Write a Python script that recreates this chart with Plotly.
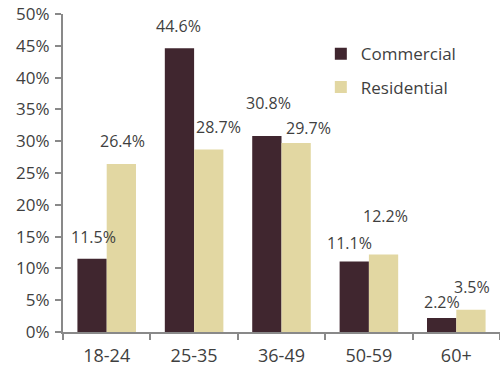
import plotly.graph_objects as go

# Age bands and share of each customer segment (%)
age_bands = ["18-24", "25-35", "36-49", "50-59", "60+"]
commercial = [11.5, 44.6, 30.8, 11.1, 2.2]
residential = [26.4, 28.7, 29.7, 12.2, 3.5]

# Hand-placed value labels: (dx, dy) pixel nudges from each bar's top centre
commercial_label_nudge = [(1, 22), (-1, 22), (1, 33), (-5, 18), (0, 16)]
residential_label_nudge = [(1, 23), (10, 22), (12, 15), (2, 38), (1, 23)]

series = [
    ("Commercial", commercial, "#40262f", -14.5, commercial_label_nudge),
    ("Residential", residential, "#e2d7a2", 14.5, residential_label_nudge),
]

FONT = "Open Sans, Noto Sans, sans-serif"
TEXT = "#3f3f3f"
AXIS = "#898989"

fig = go.Figure()
annotations = []
for name, vals, color, bar_dx, nudges in series:
    fig.add_trace(go.Bar(
        x=age_bands, y=vals, name=name, marker_color=color,
        marker_line_width=0, legendgroup=name,
    ))
    for cat, v, (dx, dy) in zip(age_bands, vals, nudges):
        annotations.append(dict(
            x=cat, y=v, xref="x", yref="y", text=f"{v:.1f}%",
            showarrow=False, xshift=bar_dx + dx, yshift=dy,
            xanchor="center", yanchor="middle",
            font=dict(family=FONT, size=16, color=TEXT),
        ))

fig.update_layout(
    width=500, height=371,
    margin=dict(l=63, r=0, t=14, b=39),
    paper_bgcolor="white", plot_bgcolor="white",
    barmode="group", bargap=0.33, bargroupgap=0,
    font=dict(family=FONT, size=17, color=TEXT),
    showlegend=True,
    legend=dict(
        x=0.59, y=0.93, xanchor="left", yanchor="top",
        font=dict(family=FONT, size=17, color=TEXT),
        tracegroupgap=8, traceorder="grouped", bgcolor="rgba(0,0,0,0)",
    ),
    annotations=annotations,
)
fig.update_xaxes(
    range=[-0.5, 4.5], showline=True, linecolor=AXIS, linewidth=2,
    ticks="outside", tickson="boundaries", ticklen=6, tickcolor=AXIS,
    tickwidth=2, tickfont=dict(size=18), ticklabelstandoff=6,
    showgrid=False,
)
fig.update_yaxes(
    range=[0, 50], dtick=5, ticksuffix="%", showline=True,
    linecolor=AXIS, linewidth=2, ticks="outside", ticklen=6,
    tickcolor=AXIS, tickwidth=2, showgrid=False, zeroline=False,
    tickfont=dict(size=17), ticklabelstandoff=2,
)

fig.write_html("out.html")
